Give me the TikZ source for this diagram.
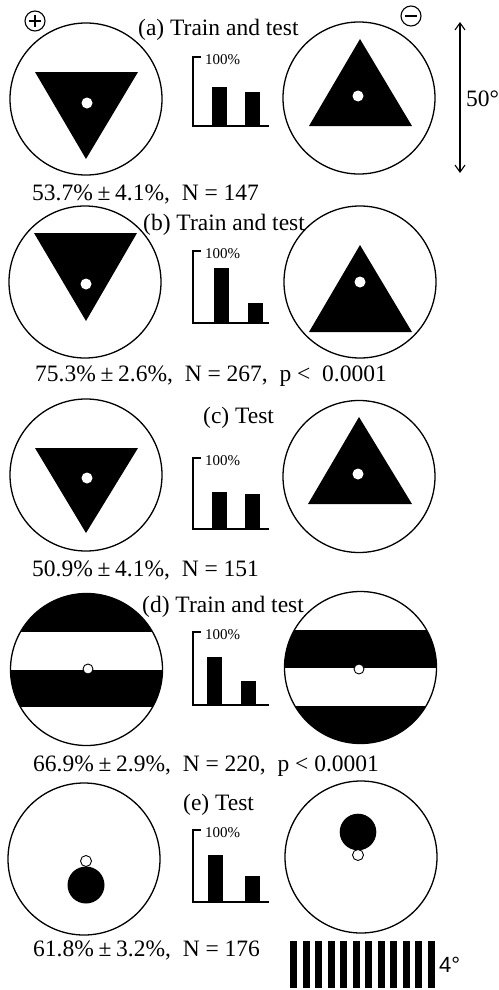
\documentclass[tikz,border=0pt]{standalone}
\usepackage{fontspec}
\setmainfont{Liberation Serif}
\newfontfamily\sansf{Liberation Sans}
\usetikzlibrary{arrows.meta}
\newcommand\mychart[7]{%
  \draw[axis] (201,#2) -- (193,#2) -- (193,#3) -- (269,#3);
  \fill (#4,#3) rectangle (#4+15,#5);
  \fill (#6,#3) rectangle (#6+15,#7);
  \node[pct] (#1) at (205,#2+7) {100\%};
}
\newcommand\mypm{\hspace{0.2em}±\hspace{0.2em}}
\begin{document}
\begin{tikzpicture}[x=1pt,y=-1pt,
  ring/.style={draw, circle, line width=1.3pt, inner sep=0pt, minimum size=152pt},
  axis/.style={line width=1.4pt},
  lab/.style={font=\fontsize{23.5}{27}\selectfont, inner sep=0pt, anchor=base west},
  pct/.style={font=\fontsize{15}{17}\selectfont, inner sep=0pt, anchor=base west},
  hole/.style={fill=white, draw=black, line width=0.9pt},
  sym/.style={draw, circle, line width=1.1pt, inner sep=0pt, minimum size=20pt}]
\useasboundingbox (0,0) rectangle (498,990);

% ---------- (a)
\node[sym] (plus) at (35,21) {};
\draw[line width=1.1pt] ([xshift=-6pt]plus.center) -- ([xshift=6pt]plus.center)
  ([yshift=-6pt]plus.center) -- ([yshift=6pt]plus.center);
\node[sym] (minus) at (411,16) {};
\draw[line width=1.1pt] ([xshift=-6pt]minus.center) -- ([xshift=6pt]minus.center);
\node[lab] (ta) at (138,36) {(a) Train and test};
\node[ring] (La) at (86,99) {};
\fill (35,72) -- (138,72) -- (86,159) -- cycle;
\fill[white] (87,103) circle (5.5);
\node[ring] (Ra) at (359,98) {};
\fill (360,39) -- (309,126) -- (412,126) -- cycle;
\fill[white] (358,96) circle (5.5);
\mychart{ca}{57}{126}{212}{87}{245}{92}
\coordinate (arrTop) at (460,22);
\coordinate (arrBot) at (460,173);
\draw[line width=1.1pt, {Straight Barb[length=7pt,width=10pt]}-{Straight Barb[length=7pt,width=10pt]}] (arrTop) -- (arrBot);
\node[lab] (deg) at (466,106) {50°};
\node[lab] (sa) at (32,200) {53.7\%\mypm4.1\%,~~N = 147};

% ---------- (b)
\node[lab] (tb) at (143,230) {(b) Train and test};
\node[ring] (Lb) at (85,282) {};
\fill (34,233) -- (137,233) -- (86,321) -- cycle;
\fill[white] (86,284) circle (5.5);
\node[ring] (Rb) at (360,282) {};
\fill (360,245) -- (309,332) -- (412,332) -- cycle;
\fill[white] (360,282) circle (5.5);
\mychart{cb}{251}{323}{214}{268}{248}{303}
\node[lab] (sb) at (35,381) {75.3\%\mypm2.6\%,~~N = 267,~~p <~~0.0001};

% ---------- (c)
\node[lab] (tc) at (203,423) {(c) Test};
\node[ring] (Lc) at (86,475) {};
\fill (35,448) -- (138,448) -- (86,533) -- cycle;
\fill[white] (87,478) circle (5.5);
\node[ring] (Rc) at (359,476.5) {};
\fill (359,417) -- (308,504) -- (412,504) -- cycle;
\fill[white] (358,474) circle (5.5);
\mychart{cc}{458}{529}{212}{492}{245}{494}
\node[lab] (sc) at (32,576) {50.9\%\mypm4.1\%,~~N = 151};

% ---------- (d)
\node[lab] (td) at (142,612) {(d) Train and test};
\begin{scope}
  \clip (86.5,669.5) circle (76);
  \fill (0,590) rectangle (170,632);
  \fill (0,670) rectangle (170,707);
\end{scope}
\node[ring] (Ld) at (86.5,669.5) {};
\draw[hole] (88,669) circle (5);
\begin{scope}
  \clip (360.5,667.5) circle (76);
  \fill (280,630) rectangle (440,668);
  \fill (280,706) rectangle (440,750);
\end{scope}
\node[ring] (Rd) at (360.5,667.5) {};
\draw[hole] (359,669) circle (5);
\mychart{cd}{632}{705}{207}{657}{241}{681}
\node[lab] (sd) at (33,771) {66.9\%\mypm2.9\%,~~N = 220,~~p < 0.0001};

% ---------- (e)
\node[lab] (te) at (183,810) {(e) Test};
\node[ring] (Le) at (84,859) {};
\fill (86,885) circle (18.5);
\draw[hole] (86,861) circle (5.5);
\node[ring] (Re) at (361,857) {};
\fill (358,832) circle (18.3);
\draw[hole] (358,855) circle (5.5);
\mychart{ce}{830}{902}{208}{855}{245}{876}
\node[lab] (se) at (33,956) {61.8\%\mypm3.2\%,~~N = 176};

\foreach \i in {0,...,11}
  \fill (290+12.5*\i,941) rectangle ++(7,47);
\node[lab, font=\sansf\fontsize{22}{26}\selectfont] (four) at (439,972) {4°};
\end{tikzpicture}
\end{document}
